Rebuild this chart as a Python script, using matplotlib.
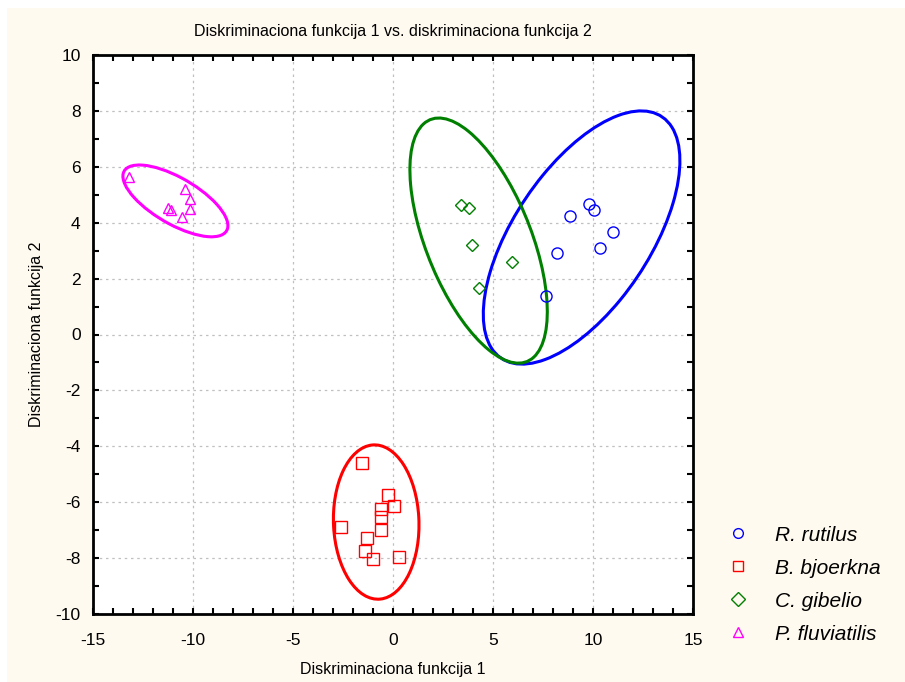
import numpy as np
import matplotlib.pyplot as plt
from matplotlib.patches import Ellipse, Rectangle
from matplotlib.ticker import MultipleLocator

plt.rcParams['font.family'] = ['Liberation Sans', 'DejaVu Sans']
plt.rcParams['axes.unicode_minus'] = False

# skorovi po vrstama (DF1, DF2)
rut_x = [9.8, 10.07, 8.85, 11.02, 10.35, 8.22, 7.65]
rut_y = [4.66, 4.45, 4.25, 3.68, 3.11, 2.91, 1.39]
bjo_x = [-1.53, -0.23, 0.05, -0.62, -0.62, -2.62, -0.62, -1.28, -1.4, -1.02, 0.32]
bjo_y = [-4.61, -5.74, -6.14, -6.24, -6.54, -6.90, -6.99, -7.27, -7.75, -8.03, -7.95]
gib_x = [3.38, 3.82, 3.93, 5.93, 4.32]
gib_y = [4.63, 4.54, 3.20, 2.60, 1.67]
flu_x = [-13.2, -10.4, -10.15, -11.23, -11.1, -10.15, -10.53]
flu_y = [5.62, 5.22, 4.84, 4.54, 4.45, 4.49, 4.19]

# elipse: centar i (sxx, syy, sxy)
ell_center = [(9.43, 3.47), (-0.84, -6.71), (4.28, 3.36), (-10.88, 4.78)]
ell_cov = [(24.16, 20.52, 13.5), (4.58, 7.62, -0.23), (11.8, 19.23, -8.73), (6.89, 1.65, -2.32)]

names = ['R. rutilus', 'B. bjoerkna', 'C. gibelio', 'P. fluviatilis']
colors = ['#0000ff', '#ff0000', '#008000', '#ff00ff']
markers = ['o', 's', 'D', '^']
msizes = [8, 8, 6, 7]

fig = plt.figure(figsize=(9.05, 6.82), dpi=100)
fig.patch.set_facecolor('white')
fig.patches.append(Rectangle((7 / 905, 0), 1, 1 - 8 / 682, transform=fig.transFigure,
                             facecolor='#fffaf0', edgecolor='none', zorder=-10))
ax = fig.add_axes([93 / 905, 1 - 614 / 682, 600 / 905, 559 / 682])
ax.set_facecolor('white')

xs = [rut_x, bjo_x, gib_x, flu_x]
ys = [rut_y, bjo_y, gib_y, flu_y]
for i in range(4):
    ax.plot(xs[i], ys[i], linestyle='none', marker=markers[i], ms=msizes[i],
            mfc='none', mec=colors[i], mew=1.0, label=names[i], zorder=3)
    sxx, syy, sxy = ell_cov[i]
    vals, vecs = np.linalg.eigh(np.array([[sxx, sxy], [sxy, syy]]))
    ang = np.degrees(np.arctan2(vecs[1, 1], vecs[0, 1]))
    e = Ellipse(ell_center[i], 2 * np.sqrt(vals[1]), 2 * np.sqrt(vals[0]), angle=ang,
                fill=False, edgecolor=colors[i], lw=2.2, zorder=2)
    ax.add_patch(e)

ax.set_xlim(-15, 15)
ax.set_ylim(-10, 10)
ax.xaxis.set_major_locator(MultipleLocator(5))
ax.xaxis.set_minor_locator(MultipleLocator(1))
ax.yaxis.set_major_locator(MultipleLocator(2))
ax.yaxis.set_minor_locator(MultipleLocator(1))
ax.tick_params(which='both', direction='in', top=True, right=True, length=4, width=1.5,
               labelsize=12.5)
ax.tick_params(axis='x', pad=14)
ax.tick_params(axis='y', pad=9)
ax.grid(True, which='major', color='#c0c0c0', linestyle=(0, (2, 3)), lw=0.9)
for s in ax.spines.values():
    s.set_linewidth(2)

ax.set_title('Diskriminaciona funkcija 1 vs. diskriminaciona funkcija 2', fontsize=11.5, pad=14)
ax.set_xlabel('Diskriminaciona funkcija 1', fontsize=11.5, labelpad=10)
ax.set_ylabel('Diskriminaciona funkcija 2', fontsize=11.5, labelpad=8)

leg = fig.legend(loc='upper left', bbox_to_anchor=(704 / 905, 1 - 507 / 682), frameon=False,
                 prop={'style': 'italic', 'size': 15}, handletextpad=1.0, labelspacing=0.67,
                 handlelength=1.5)
for h in leg.legend_handles:
    h.set_markersize(7)

fig.savefig('out.png', dpi=100)
